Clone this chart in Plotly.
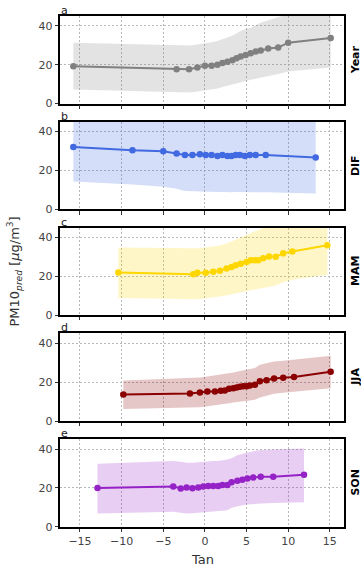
import plotly.graph_objects as go

# ---- data: predicted PM10 vs. Tan, mean with spread band, per subset ----
year_x = [-15.8, -3.4, -1.9, -0.9, 0.0, 0.8, 1.5, 2.1, 2.7, 3.3, 3.8, 4.3, 4.9, 5.5, 6.1, 6.7, 7.6, 8.8, 10.0, 15.1]
year_y = [19.2, 17.7, 17.7, 18.5, 19.5, 19.5, 20.0, 20.8, 21.5, 22.3, 23.3, 24.2, 25.0, 25.8, 26.7, 27.3, 28.3, 28.8, 31.3, 33.7]
year_hi = [31.3, 30.0, 29.8, 30.3, 30.8, 31.5, 32.2, 33.0, 34.0, 35.0, 36.3, 37.3, 38.3, 39.0, 40.3, 41.5, 42.8, 44.5, 46.0, 48.0]
year_lo = [7.3, 5.8, 5.7, 6.2, 6.8, 7.2, 7.8, 8.5, 9.2, 10.0, 10.6, 11.0, 11.5, 12.2, 12.7, 13.2, 14.0, 15.2, 16.5, 18.5]

dif_x = [-15.8, -8.7, -5.0, -3.4, -2.4, -1.5, -0.6, 0.1, 0.8, 1.5, 2.1, 2.7, 3.2, 3.7, 4.2, 4.8, 5.4, 6.1, 7.3, 13.3]
dif_y = [32.1, 30.4, 29.9, 28.7, 27.9, 27.9, 28.4, 27.9, 27.9, 27.4, 27.9, 27.4, 27.4, 27.9, 27.9, 27.4, 27.9, 27.9, 27.9, 26.7]
dif_hi = [50.0, 48.1, 48.2, 46.9, 46.4, 46.6, 47.5, 46.8, 46.9, 46.2, 46.8, 46.3, 46.4, 46.9, 47.0, 46.5, 47.0, 47.1, 47.2, 45.3]
dif_lo = [14.3, 12.8, 11.6, 10.6, 9.4, 9.2, 9.1, 9.0, 9.0, 8.9, 9.0, 8.8, 8.8, 9.0, 9.0, 8.7, 9.0, 8.9, 8.8, 8.2]

mam_x = [-10.4, -1.4, -0.9, 0.1, 1.0, 1.8, 2.6, 3.2, 3.7, 4.3, 5.0, 5.5, 6.0, 6.4, 7.0, 7.7, 8.5, 9.4, 10.5, 14.7]
mam_y = [22.0, 21.0, 21.8, 21.8, 22.3, 22.8, 24.0, 24.8, 25.7, 26.5, 27.3, 28.2, 28.2, 28.3, 29.3, 30.2, 30.0, 31.8, 32.8, 36.0]
mam_hi = [34.8, 34.2, 34.4, 34.8, 35.3, 35.8, 36.8, 37.8, 39.0, 40.0, 41.2, 42.3, 43.2, 43.8, 45.0, 46.0, 46.5, 47.5, 48.5, 51.0]
mam_lo = [8.8, 8.0, 8.2, 8.7, 9.1, 9.6, 10.3, 10.8, 11.2, 11.6, 12.0, 12.6, 13.0, 13.3, 13.8, 14.5, 15.3, 17.0, 18.3, 20.8]

jja_x = [-9.8, -1.8, -0.6, 0.3, 1.2, 1.9, 2.4, 2.9, 3.4, 3.8, 4.2, 4.6, 5.0, 5.4, 6.0, 6.6, 7.4, 8.3, 9.4, 10.7, 15.1]
jja_y = [13.7, 14.2, 14.7, 15.2, 15.2, 15.6, 15.7, 16.6, 16.9, 17.3, 17.6, 17.9, 17.9, 18.3, 18.6, 20.5, 21.0, 21.9, 22.2, 22.6, 25.3]
jja_hi = [20.9, 22.0, 22.4, 22.9, 23.4, 23.8, 24.1, 24.6, 25.0, 25.3, 25.6, 26.0, 26.3, 26.7, 27.2, 28.9, 29.7, 30.6, 31.0, 31.5, 33.5]
jja_lo = [6.2, 6.8, 7.1, 7.6, 8.0, 8.4, 8.7, 9.1, 9.5, 9.8, 10.0, 10.2, 10.3, 10.6, 11.0, 12.1, 13.0, 14.0, 14.5, 15.0, 16.9]

son_x = [-12.9, -3.8, -2.9, -2.2, -1.5, -0.8, -0.2, 0.4, 1.0, 1.6, 2.1, 2.7, 3.2, 3.9, 4.5, 5.1, 5.8, 6.7, 8.2, 11.9]
son_y = [20.0, 20.8, 19.7, 20.3, 19.8, 20.3, 20.7, 21.0, 21.0, 21.0, 21.5, 21.5, 22.9, 23.7, 24.2, 24.9, 25.4, 25.8, 25.8, 26.8]
son_hi = [32.5, 33.9, 33.5, 33.0, 33.0, 33.3, 33.6, 33.8, 33.9, 33.9, 34.2, 34.6, 35.3, 36.8, 37.6, 38.3, 38.9, 39.5, 39.8, 40.3]
son_lo = [6.9, 7.8, 7.3, 6.9, 7.0, 7.3, 7.6, 7.7, 7.8, 8.0, 8.2, 8.5, 9.8, 10.6, 11.1, 11.5, 11.8, 12.0, 12.3, 12.7]

panel_names = ["Year", "DIF", "MAM", "JJA", "SON"]
panel_letters = ["a", "b", "c", "d", "e"]
x_tickvals = [-15, -10, -5, 0, 5, 10, 15]
x_ticktext = ["\u221215", "\u221210", "\u22125", "0", "5", "10", "15"]
y_tickvals = [0, 20, 40]

series = [
    (year_x, year_y, year_lo, year_hi, "#808080", "rgba(128,128,128,0.22)"),
    (dif_x, dif_y, dif_lo, dif_hi, "#4169E1", "rgba(65,105,225,0.22)"),
    (mam_x, mam_y, mam_lo, mam_hi, "#FFD700", "rgba(255,215,0,0.22)"),
    (jja_x, jja_y, jja_lo, jja_hi, "#8B0000", "rgba(139,0,0,0.22)"),
    (son_x, son_y, son_lo, son_hi, "#9422C6", "rgba(148,34,198,0.22)"),
]

FONT = "DejaVu Sans"
panel_h = 0.1714
gap = 0.0357

fig = go.Figure()
layout = dict(
    width=361, height=568,
    margin=dict(l=60, r=17, t=16, b=41),
    paper_bgcolor="white", plot_bgcolor="white",
    showlegend=False,
    font=dict(family=FONT, size=10, color="#444"),
)
annotations = []

for i, (xs, ys, lo, hi, col, fill) in enumerate(series):
    n = i + 1
    xa = "x" if n == 1 else f"x{n}"
    ya = "y" if n == 1 else f"y{n}"
    # spread band
    fig.add_trace(go.Scatter(x=xs, y=lo, mode="lines", line=dict(width=0, color=fill),
                             xaxis=xa, yaxis=ya, hoverinfo="skip"))
    fig.add_trace(go.Scatter(x=xs, y=hi, mode="lines", line=dict(width=0, color=fill),
                             fill="tonexty", fillcolor=fill, xaxis=xa, yaxis=ya, hoverinfo="skip"))
    # mean curve
    fig.add_trace(go.Scatter(x=xs, y=ys, mode="lines+markers",
                             line=dict(color=col, width=2),
                             marker=dict(color=col, size=6.5),
                             xaxis=xa, yaxis=ya))

    top = 1.0 - i * (panel_h + gap)
    bottom = top - panel_h
    key_x = "xaxis" if n == 1 else f"xaxis{n}"
    key_y = "yaxis" if n == 1 else f"yaxis{n}"
    layout[key_x] = dict(
        domain=[0, 1], anchor=ya, range=[-17.4, 16.7],
        tickvals=x_tickvals, ticktext=x_ticktext,
        showticklabels=(n == 5),
        ticks="outside", ticklen=3.5, tickwidth=1, tickcolor="#333",
        showgrid=True, gridcolor="#b8b8b8", gridwidth=0.7, griddash="2px,2px",
        showline=True, linecolor="black", linewidth=1.5, mirror=True,
        zeroline=False, tickfont=dict(size=11, color="#444"),
    )
    layout[key_y] = dict(
        domain=[max(bottom, 0), top], anchor=xa, range=[0, 45],
        tickvals=y_tickvals,
        ticks="outside", ticklen=3.5, tickwidth=1, tickcolor="#333",
        showgrid=True, gridcolor="#b8b8b8", gridwidth=0.7, griddash="2px,2px",
        showline=True, linecolor="black", linewidth=1.5, mirror=True,
        zeroline=False, tickfont=dict(size=11, color="#444"),
    )
    # panel letter
    annotations.append(dict(
        text=panel_letters[i], xref=f"{xa} domain", yref=f"{ya} domain",
        x=0.0, y=1.0, xanchor="left", yanchor="bottom", yshift=-3, xshift=-1,
        showarrow=False, font=dict(family=FONT, size=11, color="#222"),
    ))
    # subset name on the right
    annotations.append(dict(
        text=f"<b>{panel_names[i]}</b>", xref=f"{xa} domain", yref=f"{ya} domain",
        x=1.0, y=0.5, xanchor="left", yanchor="middle", xshift=3,
        textangle=-90, showarrow=False, font=dict(family=FONT, size=11, color="black"),
    ))

# shared axis titles
annotations.append(dict(
    text="PM10<sub><i>pred</i></sub> [<i>\u03bc</i>g/m<sup>3</sup>]",
    xref="paper", yref="paper", x=0, y=0.5, xshift=-46,
    xanchor="center", yanchor="middle", textangle=-90, showarrow=False,
    font=dict(family=FONT, size=13, color="#333"),
))
annotations.append(dict(
    text="Tan", xref="x5 domain", yref="paper", x=0.5, y=0, yshift=-32,
    xanchor="center", yanchor="middle", showarrow=False,
    font=dict(family=FONT, size=13, color="#333"),
))

layout["annotations"] = annotations
fig.update_layout(**layout)
fig.write_html("out.html")
